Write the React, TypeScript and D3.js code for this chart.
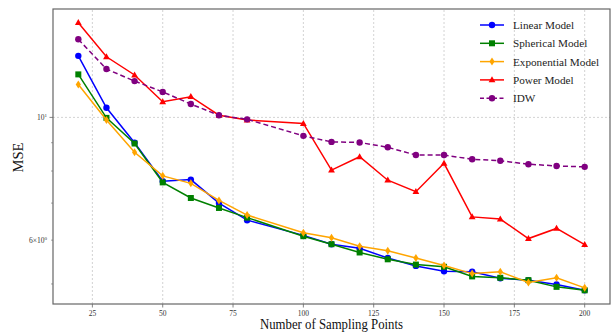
import React, { useEffect, useRef } from "react";
import * as d3 from "d3";

const samplePoints = [20, 30, 40, 50, 60, 70, 80, 100, 110, 120, 130, 140, 150, 160, 170, 180, 190, 200];

const linearMse = [12.92, 10.41, 9.0, 7.67, 7.72, 7.0, 6.52, 6.12, 5.9, 5.8, 5.57, 5.39, 5.27, 5.26, 5.12, 5.08, 4.99, 4.87];
const sphericalMse = [11.96, 9.98, 8.97, 7.63, 7.15, 6.86, 6.59, 6.1, 5.9, 5.7, 5.54, 5.42, 5.37, 5.16, 5.13, 5.08, 4.94, 4.87];
const exponentialMse = [11.47, 9.89, 8.65, 7.84, 7.6, 7.08, 6.66, 6.19, 6.06, 5.85, 5.74, 5.57, 5.4, 5.22, 5.26, 5.03, 5.13, 4.92];
const powerMse = [14.83, 12.87, 11.93, 10.67, 10.9, 10.09, 9.89, 9.75, 8.03, 8.49, 7.7, 7.34, 8.26, 6.61, 6.55, 6.04, 6.3, 5.89];
const idwMse = [13.84, 12.23, 11.63, 11.12, 10.57, 10.09, 9.92, 9.26, 9.03, 9.01, 8.83, 8.55, 8.55, 8.4, 8.35, 8.23, 8.17, 8.14];

const seriesNames = ["Linear Model", "Spherical Model", "Exponential Model", "Power Model", "IDW"];
const xTicks = [25, 50, 75, 100, 125, 150, 175, 200];
const yMinorTicks = [5, 7, 8, 9];

type Series = {
  name: string;
  values: number[];
  color: string;
  marker: string;
  dashed: boolean;
};

const series: Series[] = [
  { name: seriesNames[0], values: linearMse, color: "#0000ff", marker: "circle", dashed: false },
  { name: seriesNames[1], values: sphericalMse, color: "#008000", marker: "square", dashed: false },
  { name: seriesNames[2], values: exponentialMse, color: "#ffa500", marker: "diamond", dashed: false },
  { name: seriesNames[3], values: powerMse, color: "#ff0000", marker: "triangle", dashed: false },
  { name: seriesNames[4], values: idwMse, color: "#800080", marker: "circle", dashed: true },
];

const font = "'Liberation Serif', 'DejaVu Serif', serif";

function drawMarker(g: any, kind: string, x: number, y: number, color: string) {
  if (kind === "circle") {
    g.append("circle").attr("cx", x).attr("cy", y).attr("r", 3.2).attr("fill", color);
  } else if (kind === "square") {
    g.append("rect").attr("x", x - 3).attr("y", y - 3).attr("width", 6).attr("height", 6).attr("fill", color);
  } else if (kind === "diamond") {
    g.append("path")
      .attr("d", `M${x},${y - 4}L${x + 2.6},${y}L${x},${y + 4}L${x - 2.6},${y}Z`)
      .attr("fill", color);
  } else {
    g.append("path")
      .attr("d", `M${x},${y - 3.6}L${x + 3.4},${y + 2.4}L${x - 3.4},${y + 2.4}Z`)
      .attr("fill", color);
  }
}

export default function App() {
  const svgRef = useRef<SVGSVGElement>(null);

  useEffect(() => {
    document.body.style.margin = "0";
    const width = 612;
    const height = 334;
    const margin = { left: 53, right: 2, top: 9, bottom: 30 };

    const svg = d3.select(svgRef.current).attr("width", width).attr("height", height);
    svg.selectAll("*").remove();

    const x = d3.scaleLinear().domain([11, 209]).range([margin.left, width - margin.right]);
    const y = d3.scaleLog().domain([4.6, 15.7]).range([height - margin.bottom, margin.top]);

    const x0 = margin.left;
    const x1 = width - margin.right;
    const y0 = height - margin.bottom;
    const y1 = margin.top;

    // grid
    const grid = svg.append("g").attr("stroke", "#c8c8c8").attr("stroke-width", 0.8).attr("stroke-dasharray", "2,2");
    xTicks.forEach((t) => {
      grid.append("line").attr("x1", x(t)).attr("x2", x(t)).attr("y1", y0).attr("y2", y1);
    });
    grid.append("line").attr("x1", x0).attr("x2", x1).attr("y1", y(10)).attr("y2", y(10));

    // series
    const line = d3
      .line<number>()
      .x((_, i) => x(samplePoints[i]))
      .y((d) => y(d));

    series.forEach((s) => {
      const g = svg.append("g");
      g.append("path")
        .datum(s.values)
        .attr("d", line)
        .attr("fill", "none")
        .attr("stroke", s.color)
        .attr("stroke-width", 1.5)
        .attr("stroke-dasharray", s.dashed ? "5,3" : null);
      s.values.forEach((v, i) => drawMarker(g, s.marker, x(samplePoints[i]), y(v), s.color));
    });

    // frame
    svg.append("rect")
      .attr("x", x0).attr("y", y1).attr("width", x1 - x0).attr("height", y0 - y1)
      .attr("fill", "none").attr("stroke", "#666").attr("stroke-width", 1.2);

    // x ticks
    const xt = svg.append("g");
    xTicks.forEach((t) => {
      xt.append("line").attr("x1", x(t)).attr("x2", x(t)).attr("y1", y0).attr("y2", y0 + 3.5).attr("stroke", "#666").attr("stroke-width", 0.8);
      xt.append("text").attr("x", x(t)).attr("y", y0 + 11.5).attr("text-anchor", "middle")
        .attr("font-family", font).attr("font-size", 7.5).attr("fill", "#333").text(String(t));
    });

    // y ticks
    const yt = svg.append("g");
    yMinorTicks.forEach((t) => {
      yt.append("line").attr("x1", x0).attr("x2", x0 - 2).attr("y1", y(t)).attr("y2", y(t)).attr("stroke", "#666").attr("stroke-width", 0.6);
    });
    yt.append("line").attr("x1", x0).attr("x2", x0 - 2).attr("y1", y(6)).attr("y2", y(6)).attr("stroke", "#666").attr("stroke-width", 0.6);
    yt.append("line").attr("x1", x0).attr("x2", x0 - 3.5).attr("y1", y(10)).attr("y2", y(10)).attr("stroke", "#666").attr("stroke-width", 0.8);

    const l10 = yt.append("text").attr("x", x0 - 6).attr("y", y(10) + 2.5).attr("text-anchor", "end")
      .attr("font-family", font).attr("font-size", 7.5).attr("fill", "#333");
    l10.append("tspan").text("10");
    l10.append("tspan").attr("dy", -3).attr("font-size", 5).text("1");

    const l6 = yt.append("text").attr("x", x0 - 6).attr("y", y(6) + 2.5).attr("text-anchor", "end")
      .attr("font-family", font).attr("font-size", 7.5).attr("fill", "#333");
    l6.append("tspan").text("6\u00d710");
    l6.append("tspan").attr("dy", -3).attr("font-size", 5).text("0");

    // axis labels
    const xLabelW = 143;
    svg.append("text").attr("x", (x0 + x1) / 2 - xLabelW / 2).attr("y", 329)
      .attr("textLength", xLabelW).attr("lengthAdjust", "spacingAndGlyphs")
      .attr("font-family", font).attr("font-size", 14.5).attr("fill", "#111").text("Number of Sampling Points");
    svg.append("text").attr("transform", `translate(22.5, ${(y0 + y1) / 2 + 1}) rotate(-90)`).attr("text-anchor", "middle")
      .attr("font-family", font).attr("font-size", 14.5).attr("fill", "#111").text("MSE");

    // legend
    const legend = svg.append("g").attr("transform", "translate(480, 25)");
    series.forEach((s, i) => {
      const row = legend.append("g").attr("transform", `translate(0, ${i * 18.3})`);
      row.append("line").attr("x1", 0).attr("x2", 24).attr("y1", 0).attr("y2", 0)
        .attr("stroke", s.color).attr("stroke-width", 1.5).attr("stroke-dasharray", s.dashed ? "4,2.5" : null);
      drawMarker(row, s.marker, 12, 0, s.color);
      row.append("text").attr("x", 33).attr("y", 4).attr("font-family", font).attr("font-size", 11.2)
        .attr("fill", "#222").text(s.name);
    });
  }, []);

  return <svg ref={svgRef} style={{ display: "block" }} />;
}
